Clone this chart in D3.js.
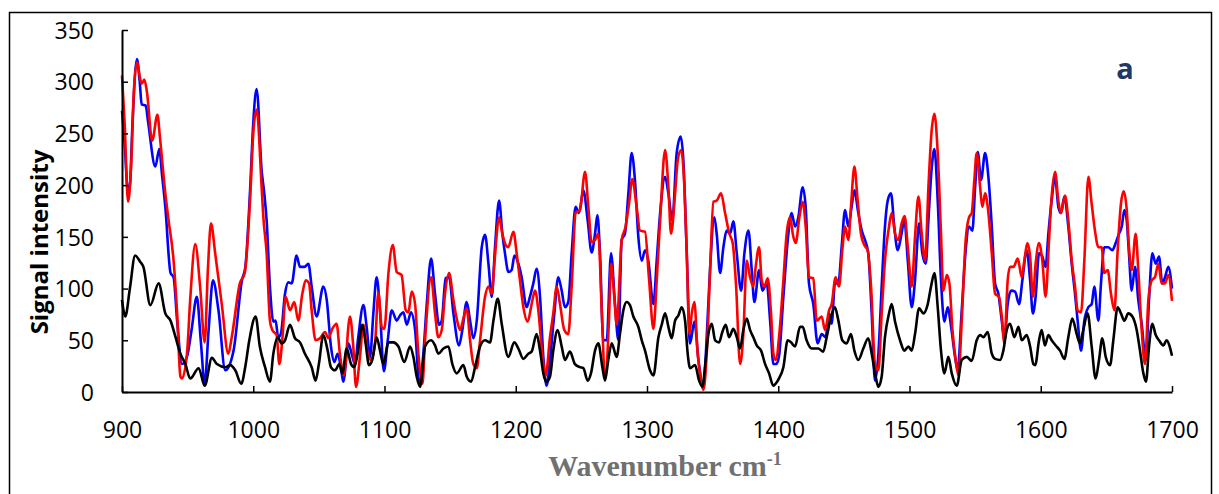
<!DOCTYPE html>
<html>
<head>
<meta charset="utf-8">
<script src="https://cdn.jsdelivr.net/npm/d3@7"></script>
<style>
  body { margin: 0; background: #fff; }
  .tick text { font-family: "Open Sans", sans-serif; font-size: 23px; fill: #000; }
</style>
</head>
<body>
<div id="chart"></div>
<script>
// tick values
const xTicks = [900, 1000, 1100, 1200, 1300, 1400, 1500, 1600, 1700];
const yTicks = [0, 50, 100, 150, 200, 250, 300, 350];

// [wavenumber, signal]
const blueSeries = [[900,272],[902,240],[904.5,195],[906,200],[908,260],[911.4,322],[913.5,300],[915,278],[918,277],[920,260],[925.4,218],[928.4,235],[930.5,210],[933,179],[937,115],[939.3,111],[942,69],[945.7,27],[949.5,34],[953,60],[957,92],[960,50],[963,8],[966,60],[969.3,108],[973.5,79],[978.7,21],[985,40],[991.4,108],[994,121],[997.7,198],[1000,260],[1002.6,293],[1006.4,214],[1008.4,192],[1010.2,166],[1012.7,102],[1015.3,68],[1017,69],[1019,53],[1021,56],[1024.2,95],[1026.7,106],[1029.3,105],[1033,132],[1035.6,121],[1039,121],[1042,124],[1044.5,102],[1048.3,73],[1053.4,102],[1056,89],[1059.2,44],[1061.8,29],[1064.3,37],[1067.4,18],[1068.6,10],[1072.4,47],[1075,37],[1077.5,27],[1080,53],[1083.9,84],[1086.4,63],[1089,34],[1091.5,76],[1094,111],[1096.5,80],[1099.5,20],[1102.5,50],[1105.5,79],[1109.3,69],[1111.8,74],[1114.4,77],[1117,65],[1120.2,77],[1123.3,60],[1126.6,8],[1129.6,37],[1132.2,85],[1135.5,129],[1138.5,95],[1141.6,65],[1143.6,69],[1146.6,110],[1149.2,111],[1152.5,76],[1156.8,45],[1159.3,60],[1162.6,87],[1165.2,69],[1167.7,52],[1170.3,69],[1174.1,140],[1176.6,152],[1179.2,124],[1181.7,92],[1184.2,140],[1187.3,185],[1189.8,153],[1191.8,134],[1194.4,116],[1196.9,118],[1199,132],[1202,124],[1204.5,111],[1208.3,82],[1210.8,92],[1213.4,105],[1215.9,119],[1218.5,92],[1221,34],[1223.5,6],[1226.1,31],[1229.4,76],[1232.4,111],[1235,98],[1237.5,82],[1240,87],[1242.6,134],[1245.6,179],[1248.2,173],[1251.5,195],[1254.8,166],[1257.8,135],[1260.4,153],[1262.2,171],[1264.2,134],[1266.7,50],[1269.3,50],[1272.6,134],[1275.6,85],[1278.2,50],[1280.7,147],[1283.2,153],[1285.8,192],[1288.3,231],[1290.8,205],[1293.4,150],[1296,127],[1298.5,137],[1301,127],[1304.9,85],[1307.4,127],[1310,173],[1313.8,208],[1316.3,192],[1319.3,166],[1322.6,231],[1325.7,247],[1327.7,224],[1330.3,134],[1332.8,47],[1336.1,68],[1339.2,31],[1343,5],[1345.5,53],[1348,118],[1351.3,169],[1353.1,153],[1355.7,115],[1358.2,140],[1360.7,156],[1363.3,153],[1365.8,165],[1368.4,134],[1371.7,98],[1374.2,134],[1377.3,156],[1379.8,118],[1381.8,87],[1385.4,118],[1387.9,98],[1391.2,105],[1393.8,69],[1396.3,27],[1398.5,27],[1400.5,34],[1403.9,92],[1407.7,153],[1410.2,173],[1412.8,160],[1415.3,169],[1418.6,198],[1420.9,179],[1423.4,105],[1426.7,85],[1430,47],[1433.1,56],[1436.1,53],[1438.7,76],[1440.7,66],[1443.2,105],[1445.8,105],[1448.3,140],[1450.9,176],[1453.4,160],[1455.9,179],[1458,195],[1461,173],[1463.6,156],[1466.1,147],[1468.6,134],[1471.2,76],[1473.7,11],[1476.3,37],[1478.8,102],[1481.3,160],[1483.4,185],[1485.9,192],[1488.4,160],[1491,137],[1493.5,150],[1496.1,166],[1498.7,127],[1501.7,82],[1504.2,108],[1507.3,163],[1509.8,134],[1512.4,124],[1514.4,166],[1517,218],[1519,235],[1521.5,185],[1524,108],[1526.6,68],[1529.1,82],[1531.7,63],[1534.7,34],[1536.7,21],[1539.8,79],[1542.8,137],[1545.4,160],[1547.9,156],[1550,198],[1552,232],[1554.5,205],[1557.6,231],[1560.1,208],[1562.7,160],[1565.2,105],[1567.7,95],[1570.3,69],[1572.3,50],[1574.8,85],[1577.4,98],[1580.4,97],[1583.5,85],[1586,108],[1589.3,137],[1591.9,108],[1594,76],[1596.1,92],[1598.7,134],[1601.2,131],[1603.7,121],[1605.8,153],[1608.3,185],[1610.9,208],[1613.4,179],[1615.4,173],[1618,189],[1621,160],[1623.6,124],[1626.1,95],[1628.1,69],[1630.7,40],[1633.2,69],[1636.3,82],[1638.8,85],[1640.8,102],[1643.9,69],[1645.9,105],[1648.4,140],[1651.5,140],[1654.5,137],[1657.1,144],[1659.6,153],[1661.7,160],[1663.7,176],[1665.5,166],[1667.2,134],[1669.3,98],[1671.8,121],[1674.3,89],[1676.9,66],[1680,31],[1682.5,89],[1685,134],[1687.6,124],[1690.1,131],[1692.6,105],[1694.7,111],[1697.2,121],[1700,100]];

const redSeries = [[900,306],[902,260],[904.6,184],[907,220],[909,290],[911.5,319],[913.5,305],[915,298],[917,302],[919,290],[923,243],[927,268],[929,245],[933,192],[935.5,166],[939.3,127],[942,76],[944.5,15],[945.7,13],[949.5,37],[952,90],[955.8,143],[959.5,102],[963,48],[965.5,120],[967.8,163],[971,134],[976,85],[981,37],[983.6,53],[989.8,105],[993.5,115],[997.7,189],[1000,250],[1002.6,273],[1006.4,198],[1007.7,169],[1010.2,134],[1012.7,69],[1014.5,60],[1017.8,55],[1019.9,27],[1022.1,50],[1024.7,92],[1028,79],[1031.3,87],[1034.3,69],[1037.4,95],[1040,108],[1042.5,105],[1044.5,79],[1047.5,50],[1050.8,52],[1054.7,58],[1057.2,52],[1060.2,61],[1063.5,66],[1066,37],[1069,16],[1073.7,73],[1076.2,44],[1078.3,5],[1081.3,34],[1083.9,65],[1087.2,37],[1089.7,31],[1092.8,47],[1095.3,96],[1097.9,63],[1099.9,61],[1103,115],[1106.3,142],[1109.3,116],[1113,113],[1116.2,79],[1118.2,77],[1120.7,97],[1123.3,85],[1125.8,37],[1128.9,8],[1130.9,50],[1135.5,111],[1138.5,76],[1141,53],[1143.6,60],[1146.1,95],[1149.2,115],[1152.5,89],[1155,71],[1157.6,60],[1160.1,71],[1162.6,81],[1165.2,50],[1167.7,27],[1170.3,23],[1172.8,50],[1176.6,92],[1179.2,102],[1181.7,95],[1183.7,124],[1187.3,169],[1189.8,153],[1192.4,142],[1194.3,140],[1198.2,155],[1200.7,134],[1203.2,108],[1205.8,82],[1209.1,68],[1212.1,85],[1214.7,98],[1217.2,79],[1220.2,37],[1222.8,16],[1226.1,53],[1228.6,76],[1231.2,102],[1233.7,85],[1237,60],[1240,56],[1242.6,102],[1245.6,173],[1248.9,176],[1252.8,213],[1255.3,179],[1257.8,145],[1260.4,147],[1262.9,153],[1265.5,79],[1268,13],[1271,69],[1272.6,124],[1275.1,92],[1276.9,65],[1280.7,147],[1283.7,160],[1286.3,182],[1288.8,206],[1292.1,179],[1294.7,156],[1298.5,155],[1301.5,110],[1304.9,61],[1307.5,110],[1310,166],[1313.8,234],[1316.3,198],[1318.3,153],[1321.4,192],[1323.4,224],[1326,234],[1328.5,198],[1330.3,134],[1332.3,56],[1334.1,76],[1336.1,87],[1338.6,37],[1341.2,11],[1343,2],[1345.5,37],[1348,115],[1350.6,184],[1353.1,185],[1356.4,192],[1359.5,173],[1362.8,153],[1365.3,144],[1367.9,102],[1370.9,27],[1373.4,56],[1376,127],[1378.5,111],[1381,102],[1382.8,121],[1385.4,140],[1387.4,108],[1389.4,102],[1392,110],[1394.5,76],[1396.3,37],[1398,31],[1401.3,63],[1403.9,108],[1406.4,153],[1408.9,169],[1411.5,150],[1413.3,144],[1416.1,169],[1418.6,184],[1420.9,160],[1423.4,111],[1426.7,110],[1429.3,69],[1433.1,73],[1435.6,60],[1438.7,79],[1440.7,85],[1443.7,111],[1446.3,102],[1448.8,137],[1450.9,160],[1453.4,147],[1455.4,179],[1458,218],[1460.5,185],[1463,153],[1465.6,142],[1468.1,137],[1470.7,102],[1473.7,27],[1476.3,21],[1478.8,76],[1481.3,127],[1484.4,160],[1486.4,173],[1489,153],[1491.5,147],[1494,163],[1496.3,170],[1498.7,140],[1501.7,102],[1504.2,150],[1506.8,189],[1509.3,153],[1511.9,127],[1514.4,198],[1516.9,253],[1519,269],[1521.5,231],[1524,153],[1525.8,98],[1528.4,113],[1530.4,105],[1532.7,60],[1535.2,31],[1537.3,16],[1539.8,69],[1542.8,147],[1545.4,169],[1547.4,173],[1549.4,205],[1551.2,231],[1553.8,198],[1555.5,179],[1557.6,192],[1559.6,179],[1562.7,134],[1565.2,95],[1568.2,92],[1570.3,73],[1572.3,47],[1574.8,108],[1576.6,121],[1579.2,121],[1582.5,129],[1585.5,111],[1587.5,127],[1589.8,144],[1591.9,131],[1594,92],[1596.1,124],[1598.7,144],[1601.2,127],[1603.7,92],[1606.3,147],[1608.3,189],[1610.9,213],[1613.4,185],[1615.4,173],[1618.5,190],[1621,166],[1623.6,127],[1626.1,102],[1628.1,79],[1630.7,77],[1633.2,127],[1636.3,208],[1638.8,182],[1641.3,156],[1643.9,140],[1646.4,140],[1648.4,115],[1651,118],[1653.5,95],[1656.1,79],[1658.6,137],[1661.1,182],[1663.2,194],[1665.5,176],[1667.2,140],[1669.3,118],[1672.3,153],[1674.3,118],[1676.9,60],[1679.4,27],[1682,89],[1684.5,108],[1687,111],[1689.6,124],[1692.1,105],[1694.7,105],[1697.2,113],[1700,88]];

const blackSeries = [[900,89],[902.5,73],[906,100],[910,132],[913.8,126],[916.3,121],[921.6,84],[927.9,105],[933,76],[937,69],[940.8,53],[944.5,37],[948.3,27],[952,13],[958.4,23],[963,6],[968.5,33],[972.3,27],[978.7,24],[982.5,26],[986.3,21],[990.9,8],[994,25],[997,50],[1001.8,73],[1005,44],[1009,24],[1012.7,10],[1015.3,37],[1018.6,53],[1021.6,47],[1024.2,50],[1028,65],[1031.8,52],[1035.6,48],[1039.4,37],[1044.5,24],[1047.5,11],[1050,27],[1053.4,55],[1056.7,40],[1059.2,24],[1062.3,21],[1065.6,27],[1067.9,18],[1071.2,42],[1074.5,27],[1077,24],[1079.5,37],[1083.1,65],[1085.6,47],[1088.2,26],[1090.7,31],[1094,53],[1096.6,40],[1099.1,27],[1103,48],[1106.8,48],[1110.6,44],[1115.1,29],[1119.5,44],[1122,34],[1124.5,15],[1127.1,5],[1130.9,44],[1135.5,50],[1138.5,45],[1141,37],[1144.9,42],[1148.7,44],[1151.7,27],[1155,18],[1160.1,26],[1162.6,15],[1166,10],[1169,24],[1172.8,44],[1176.6,50],[1180.4,48],[1183,69],[1186.3,90],[1189.3,66],[1194.3,34],[1198.9,48],[1202,42],[1205.8,32],[1209.6,37],[1212.1,39],[1215.9,56],[1218.5,40],[1221,18],[1223.5,10],[1226.1,15],[1228.6,40],[1231.9,60],[1235,44],[1237.5,31],[1241.3,39],[1245.1,27],[1248.9,24],[1251.5,23],[1254.8,11],[1257.3,18],[1260.4,40],[1262.9,47],[1266,24],[1268,11],[1270.5,31],[1273.1,47],[1276.9,34],[1279.4,56],[1282,79],[1284.5,87],[1287,84],[1289.6,73],[1293.4,63],[1296,50],[1298.5,40],[1302.3,21],[1304.9,16],[1308.7,53],[1311.2,65],[1313.8,76],[1316.3,63],[1318.8,52],[1321.4,69],[1323.9,74],[1326.5,82],[1329,69],[1331,37],[1332.8,23],[1336.6,26],[1339.7,11],[1342.2,5],[1344.7,31],[1346.8,56],[1349.3,66],[1351.9,50],[1354.9,48],[1357.4,58],[1360,65],[1362.5,53],[1365.8,61],[1368.4,53],[1370.9,42],[1373.4,60],[1376,71],[1378.5,60],[1381,53],[1383.6,45],[1386.9,40],[1390,27],[1393,18],[1396.3,6],[1398,8],[1400.5,13],[1403.9,24],[1407.2,50],[1409.7,48],[1412.8,44],[1416.6,63],[1418.6,63],[1421.6,50],[1425.5,42],[1430.5,42],[1434.3,39],[1436.9,53],[1440.2,73],[1443.2,82],[1445.8,69],[1448.8,50],[1452.1,47],[1455.4,56],[1458,40],[1461,31],[1464.8,42],[1468.6,52],[1471.2,37],[1474.2,15],[1476.3,5],[1478.8,15],[1481.3,53],[1484.4,76],[1486.4,85],[1489,68],[1492.8,50],[1496.1,40],[1499.2,44],[1501.7,40],[1504.2,56],[1507.3,81],[1510.6,76],[1513.9,85],[1516.4,102],[1519,115],[1521.5,82],[1524,40],[1526.6,18],[1529.6,34],[1532.2,18],[1536,6],[1539.8,31],[1543.6,34],[1547.4,30],[1551.2,50],[1553.8,55],[1556.3,53],[1559.6,58],[1562.7,37],[1565.2,32],[1569,31],[1571.5,40],[1574.1,60],[1576.6,66],[1579.9,53],[1583,63],[1585.5,50],[1589.3,55],[1591.9,44],[1594.4,27],[1595.8,26],[1598.7,50],[1600.7,60],[1603.2,45],[1605.8,55],[1608.3,50],[1611.4,45],[1614.7,40],[1618,32],[1621,53],[1624,71],[1627.4,56],[1629.9,47],[1632.4,60],[1635.7,76],[1638.8,44],[1641.8,13],[1644.4,31],[1646.9,52],[1649.5,34],[1652.8,26],[1655.3,50],[1658.6,82],[1661.1,76],[1663.7,69],[1666.7,76],[1669.8,73],[1673.1,60],[1675.6,40],[1678.2,18],[1680.2,10],[1682.5,44],[1685,66],[1687.6,55],[1690.1,50],[1693.4,45],[1695.9,50],[1698,45],[1700,35]];

const W = 1219, H = 494;
const svg = d3.select("#chart").append("svg")
    .attr("width", W)
    .attr("height", H);

// outer frame
svg.append("rect")
    .attr("x", 9.5).attr("y", 12.5)
    .attr("width", 1202).attr("height", 500)
    .attr("fill", "none")
    .attr("stroke", "#000")
    .attr("stroke-width", 1.5);

const x = d3.scaleLinear().domain([900, 1700]).range([122, 1172]);
const y = d3.scaleLinear().domain([0, 350]).range([392, 30]);

const line = d3.line()
    .x(d => x(d[0]))
    .y(d => y(d[1]))
    .curve(d3.curveMonotoneX);

const series = [
    { data: blueSeries, color: "#0000ff" },
    { data: redSeries, color: "#ff0000" },
    { data: blackSeries, color: "#000000" }
];

svg.append("g").selectAll("path")
    .data(series)
    .join("path")
    .attr("d", d => line(d.data))
    .attr("fill", "none")
    .attr("stroke", d => d.color)
    .attr("stroke-width", 2.6)
    .attr("stroke-linejoin", "round");

// axes
const xAxis = svg.append("g")
    .attr("transform", "translate(0,392)")
    .call(d3.axisBottom(x).tickValues(xTicks).tickFormat(d3.format("d"))
        .tickSizeInner(-6).tickSizeOuter(0).tickPadding(30));
const yAxis = svg.append("g")
    .attr("transform", "translate(122,0)")
    .call(d3.axisLeft(y).tickValues(yTicks).tickFormat(d3.format("d"))
        .tickSizeInner(-6).tickSizeOuter(0).tickPadding(28));

[xAxis, yAxis].forEach(a => {
    a.select(".domain").attr("stroke", "#000").attr("stroke-width", 2);
    a.selectAll(".tick line").attr("stroke", "#000").attr("stroke-width", 1.5);
});
yAxis.selectAll(".tick text").attr("dy", "0.36em");

// axis titles
svg.append("text")
    .attr("transform", "translate(48,242) rotate(-90)")
    .attr("text-anchor", "middle")
    .style("font-family", "'Open Sans', sans-serif")
    .style("font-weight", "bold")
    .style("font-size", "24px")
    .text("Signal intensity");

const xt = svg.append("text")
    .attr("x", 665)
    .attr("y", 476)
    .attr("text-anchor", "middle")
    .style("font-family", "'Liberation Serif', serif")
    .style("font-weight", "bold")
    .style("font-size", "30px")
    .style("fill", "#707070");
xt.append("tspan").text("Wavenumber cm");
xt.append("tspan").attr("dy", -11).style("font-size", "18px").text("-1");

// panel label
svg.append("text")
    .attr("x", 1125)
    .attr("y", 79)
    .attr("text-anchor", "middle")
    .style("font-family", "'Open Sans', sans-serif")
    .style("font-weight", "bold")
    .style("font-size", "29px")
    .style("fill", "#1f3864")
    .text("a");
</script>
</body>
</html>
